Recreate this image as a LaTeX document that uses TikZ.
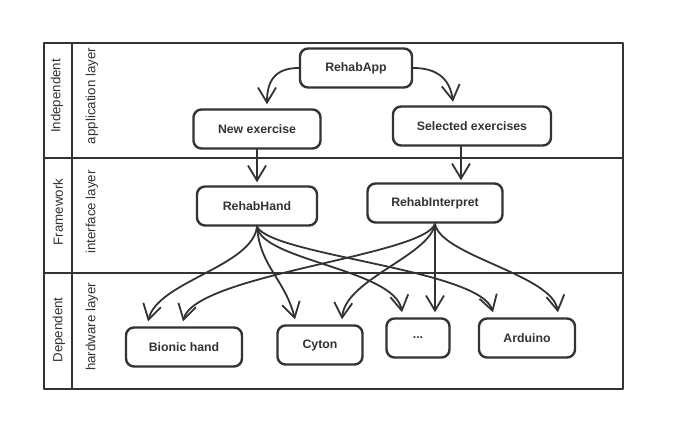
\documentclass[tikz,border=0pt]{standalone}
\usepackage{fontspec}
\setmainfont{Liberation Sans}
\usetikzlibrary{arrows.meta}
\definecolor{ink}{HTML}{333333}
\begin{document}
\begin{tikzpicture}[x=1pt,y=-1pt,
  frame/.style={draw=ink, line width=2.6pt, line cap=round, line join=round},
  box/.style={draw=ink, line width=2.4pt, rounded corners=8pt, fill=white, text=ink,
    font=\fontsize{12.3}{14}\selectfont\bfseries, inner sep=0pt, align=center},
  lab/.style={text=ink, rotate=90, font=\fontsize{13.3}{15}\selectfont, inner sep=0pt},
  arr/.style={draw=ink, line width=1.8pt, line cap=round,
    -{Straight Barb[length=15pt,width=18pt,line width=1.8pt]}}]
\useasboundingbox (0,0) rectangle (686,433);
\fill[white] (0,0) rectangle (686,433);
% table frame
\draw[frame] (44,43) rectangle (623,389);
\draw[frame] (72,43) -- (72,389);
\draw[frame] (44,158) -- (623,158);
\draw[frame] (44,273) -- (623,273);
% row labels
\node[lab] (l1) at (57,96) {Independent};
\node[lab] (l2) at (92,96) {application layer};
\node[lab] (l3) at (58,212) {Framework};
\node[lab] (l4) at (92,212) {interface layer};
\node[lab] (l5) at (59,330) {Dependent};
\node[lab] (l6) at (92,327) {hardware layer};
% boxes
\node[box, minimum width=112pt, minimum height=39pt] (app) at (356,68) {RehabApp};
\node[box, minimum width=127pt, minimum height=39pt] (ne) at (257,129) {New exercise};
\node[box, minimum width=158pt, minimum height=39pt] (sel) at (472,126) {Selected exercises};
\node[box, minimum width=120pt, minimum height=39pt] (rh) at (257,206) {RehabHand};
\node[box, minimum width=135pt, minimum height=39pt] (ri) at (435,203) {RehabInterpret};
\node[box, minimum width=116pt, minimum height=39pt] (bh) at (184,347) {Bionic hand};
\node[box, minimum width=85pt, minimum height=39pt] (cy) at (320,345) {Cyton};
\node[box, minimum width=63pt, minimum height=39pt] (dd) at (418,338) {...};
\node[box, minimum width=96pt, minimum height=39pt] (ar) at (527,338) {Arduino};
% arrows top layer
\draw[arr] (app.west) .. controls +(-25,0) and +(0,-22) .. ([xshift=10pt,yshift=4pt]ne.north);
\draw[arr] (app.east) .. controls +(25,0) and +(-3,-22) .. ([xshift=-19pt,yshift=3.5pt]sel.north);
\draw[arr] (ne.south) -- ([yshift=3pt]rh.north);
\draw[arr] ([xshift=-11pt]sel.south) -- ([xshift=26pt,yshift=2pt]ri.north);
% arrows from RehabHand
\draw[arr] (rh.south) .. controls +(-5,40) and +(10,-40) .. ([xshift=-36pt,yshift=5pt]bh.north);
\draw[arr] (rh.south) .. controls +(3,40) and +(-10,-40) .. ([xshift=-25pt,yshift=5pt]cy.north);
\draw[arr] (rh.south) .. controls +(5,34) and +(-7,-43) .. ([xshift=-16pt,yshift=5pt]dd.north);
\draw[arr] (rh.south) .. controls +(15,29) and +(-13,-43) .. ([xshift=-34pt,yshift=5pt]ar.north);
% arrows from RehabInterpret
\draw[arr] (ri.south) .. controls +(-10,32) and +(12,-47) .. ([xshift=-1pt,yshift=5pt]bh.north);
\draw[arr] (ri.south) .. controls +(-5,32) and +(3,-40) .. ([xshift=22pt,yshift=5pt]cy.north);
\draw[arr] (ri.south) -- ([xshift=17pt,yshift=5pt]dd.north);
\draw[arr] (ri.south) .. controls +(5,32) and +(-6,-38) .. ([xshift=31pt,yshift=5pt]ar.north);
\end{tikzpicture}
\end{document}
